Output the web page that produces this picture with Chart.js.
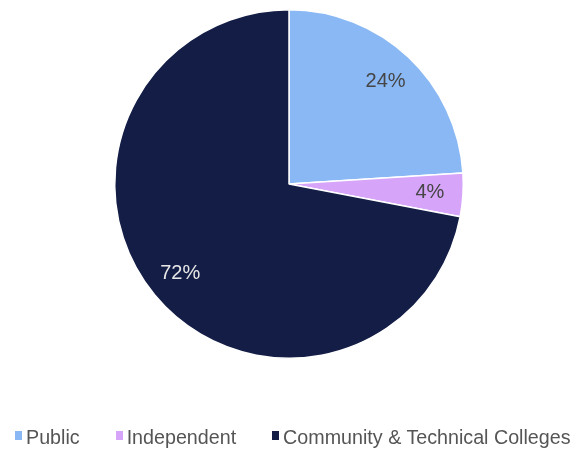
<!DOCTYPE html>
<html>
<head>
<meta charset="utf-8">
<script src="https://cdn.jsdelivr.net/npm/chart.js@4/dist/chart.umd.min.js"></script>
<style>
  html, body { margin: 0; padding: 0; background: #fff; }
  #wrap { position: relative; width: 582px; height: 449px; }
  #legend {
    position: absolute; left: 15px; top: 428px;
    display: flex; gap: 36px;
    font: 19.7px "Liberation Sans", Arial, sans-serif; color: #555;
    line-height: 19.7px;
  }
  #legend .item { display: flex; align-items: flex-start; white-space: nowrap; }
  #legend .box { width: 7px; height: 9px; margin: 3px 4px 0 0; display: inline-block; }
</style>
</head>
<body>
<div id="wrap">
  <canvas id="piechart" width="582" height="449"></canvas>
  <div id="legend"></div>
</div>
<script>
var categories = ["Public", "Independent", "Community & Technical Colleges"];
var shares = [24, 4, 72];
var colors = ["#89b8f4", "#d6a5f9", "#131d46"];
var labelColors = ["#454545", "#454545", "#e8e8e8"];

// percent text inside each slice
var sliceLabels = {
  id: 'sliceLabels',
  afterDatasetsDraw: function(chart) {
    var ctx = chart.ctx;
    var meta = chart.getDatasetMeta(0);
    ctx.save();
    ctx.font = '20px "Liberation Sans", Arial, sans-serif';
    ctx.textAlign = 'center';
    ctx.textBaseline = 'middle';
    meta.data.forEach(function(arc, i) {
      var p = arc.getProps(['x', 'y', 'startAngle', 'endAngle', 'outerRadius'], true);
      var mid = (p.startAngle + p.endAngle) / 2;
      var r = p.outerRadius * 0.81;
      ctx.fillStyle = labelColors[i];
      ctx.fillText(shares[i] + '%', p.x + Math.cos(mid) * r, p.y + Math.sin(mid) * r);
    });
    ctx.restore();
  }
};

var ctx = document.getElementById("piechart");
var myChart = new Chart(ctx, {
  type: 'pie',
  data: {
    labels: categories,
    datasets: [{
      data: shares,
      backgroundColor: colors,
      borderColor: '#ffffff',
      borderWidth: 1.5
    }]
  },
  options: {
    responsive: false,
    animation: false,
    layout: { padding: { top: 9, right: 4, bottom: 90, left: 0 } },
    plugins: {
      legend: { display: false },
      tooltip: { enabled: false }
    }
  },
  plugins: [sliceLabels]
});

// legend below the pie
var legendEl = document.getElementById('legend');
categories.forEach(function(name, i) {
  var item = document.createElement('span');
  item.className = 'item';
  var box = document.createElement('span');
  box.className = 'box';
  box.style.background = colors[i];
  item.appendChild(box);
  item.appendChild(document.createTextNode(name));
  legendEl.appendChild(item);
});
</script>
</body>
</html>
